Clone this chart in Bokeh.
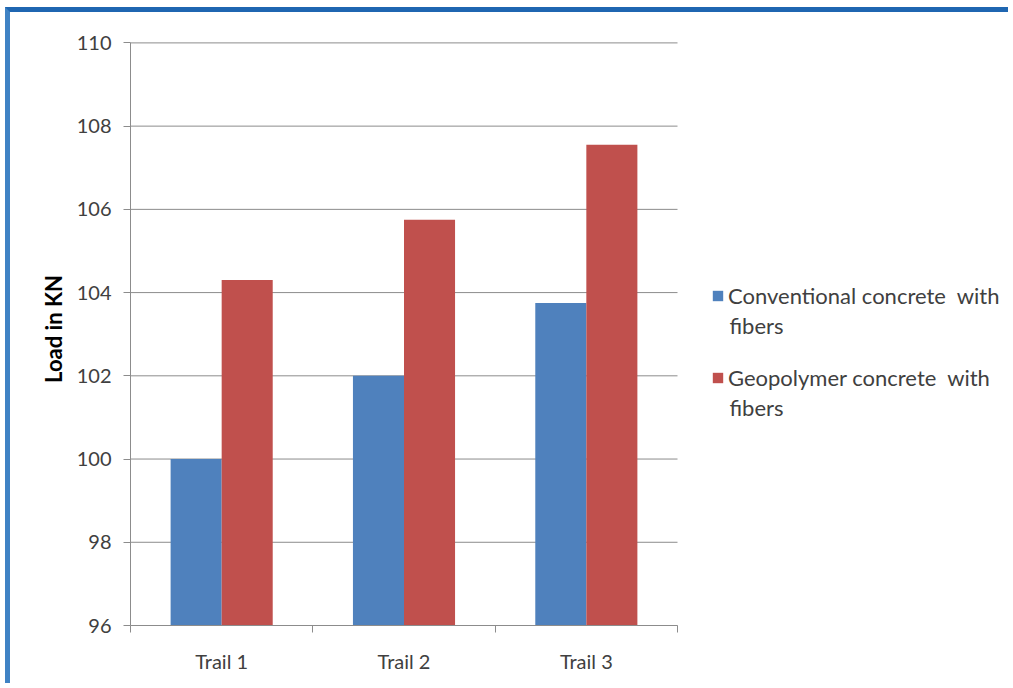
from bokeh.plotting import figure
from bokeh.models import Range1d, FixedTicker, Legend, LegendItem, Label
from bokeh.transform import dodge
from bokeh.embed import file_html
from bokeh.resources import INLINE

# Data
trails = ["Trail 1", "Trail 2", "Trail 3"]
conventional = [100.0, 102.0, 103.75]
geopolymer = [104.3, 105.75, 107.55]
y_ticks = [96, 98, 100, 102, 104, 106, 108, 110]
legend_first = ["Conventional concrete  with", "Geopolymer concrete  with"]
legend_rest = ["fibers", "fibers"]

FONT = "Lato"
BLUE = "#4F81BD"
RED = "#C0504D"
GRID = "#8C8C8C"
TEXT = "#404040"

# layout (pixels): the plot area spans 547 px for the three trails, while the
# frame continues to the right edge so that the legend can sit beside it
CAT_PX = 547 / 3
FRAME_W = 883
Y_PX = 593 / 14.25

xs = [i + 0.5 for i in range(len(trails))]
src = dict(x=xs, conv=conventional, geo=geopolymer)

p = figure(width=1003, height=676, output_backend="svg", toolbar_location=None,
           x_range=Range1d(0, FRAME_W / CAT_PX), y_range=Range1d(96, 110.25),
           min_border_left=120, min_border_right=0,
           min_border_top=20, min_border_bottom=63)
p.background_fill_color = "white"
p.border_fill_color = "white"
p.outline_line_color = None
# window-style edges around the chart
p.margin = (7, 0, 0, 5)
p.styles = {"border-top": "5px solid #1F66B1", "border-left": "5px solid #3F82C4"}

# horizontal gridlines across the three trails only
p.segment(x0=0, x1=len(trails), y0=y_ticks, y1=y_ticks, line_color=GRID, line_width=1)

r_conv = p.vbar(x=dodge("x", -0.14), top="conv", bottom=96, width=0.28,
                source=src, fill_color=BLUE, line_color=None)
r_geo = p.vbar(x=dodge("x", 0.14), top="geo", bottom=96, width=0.28,
               source=src, fill_color=RED, line_color=None)

# Y axis
p.yaxis.ticker = FixedTicker(ticks=y_ticks)
p.yaxis.bounds = (96, 110)
p.yaxis.axis_line_color = GRID
p.yaxis.major_tick_line_color = GRID
p.yaxis.major_tick_out = 7
p.yaxis.major_tick_in = 0
p.yaxis.minor_tick_line_color = None
p.yaxis.major_label_standoff = 12
p.yaxis.major_label_text_font = FONT
p.yaxis.major_label_text_font_size = "20px"
p.yaxis.major_label_text_color = TEXT
p.yaxis.axis_label = "Load in KN"
p.yaxis.axis_label_text_font = FONT
p.yaxis.axis_label_text_font_style = "bold"
p.yaxis.axis_label_text_font_size = "22px"
p.yaxis.axis_label_text_color = "black"
p.yaxis.axis_label_standoff = 7

# X axis: labels at trail centres, ticks on trail boundaries
p.xaxis.ticker = FixedTicker(ticks=xs, minor_ticks=list(range(len(trails) + 1)))
p.xaxis.bounds = (0, len(trails))
p.xaxis.major_label_overrides = {x: t for x, t in zip(xs, trails)}
p.xaxis.axis_line_color = GRID
p.xaxis.major_tick_line_color = None
p.xaxis.major_tick_out = 0
p.xaxis.major_tick_in = 0
p.xaxis.minor_tick_line_color = GRID
p.xaxis.minor_tick_out = 7
p.xaxis.minor_tick_in = 0
p.xaxis.major_label_standoff = 16
p.xaxis.major_label_text_font = FONT
p.xaxis.major_label_text_font_size = "20px"
p.xaxis.major_label_text_color = TEXT

p.xgrid.grid_line_color = None
p.ygrid.grid_line_color = None

legend = Legend(items=[
    LegendItem(label=legend_first[0], renderers=[r_conv]),
    LegendItem(label=legend_first[1], renderers=[r_geo]),
], location=(581, 234))
legend.border_line_color = None
legend.background_fill_alpha = 0
legend.glyph_width = 13
legend.glyph_height = 13
legend.label_height = 26
legend.label_text_font = FONT
legend.label_text_font_size = "22px"
legend.label_text_color = TEXT
legend.label_standoff = 4
legend.spacing = 55
p.add_layout(legend, "center")

# wrapped second line of each legend entry
for i, txt in enumerate(legend_rest):
    p.add_layout(Label(x=(729 - 130) / CAT_PX, y=96 + (300 - 82 * i) / Y_PX,
                       text=txt, text_font=FONT, text_font_size="22px",
                       text_color=TEXT, text_baseline="middle"))

open("out.html", "w").write(file_html(p, INLINE))
